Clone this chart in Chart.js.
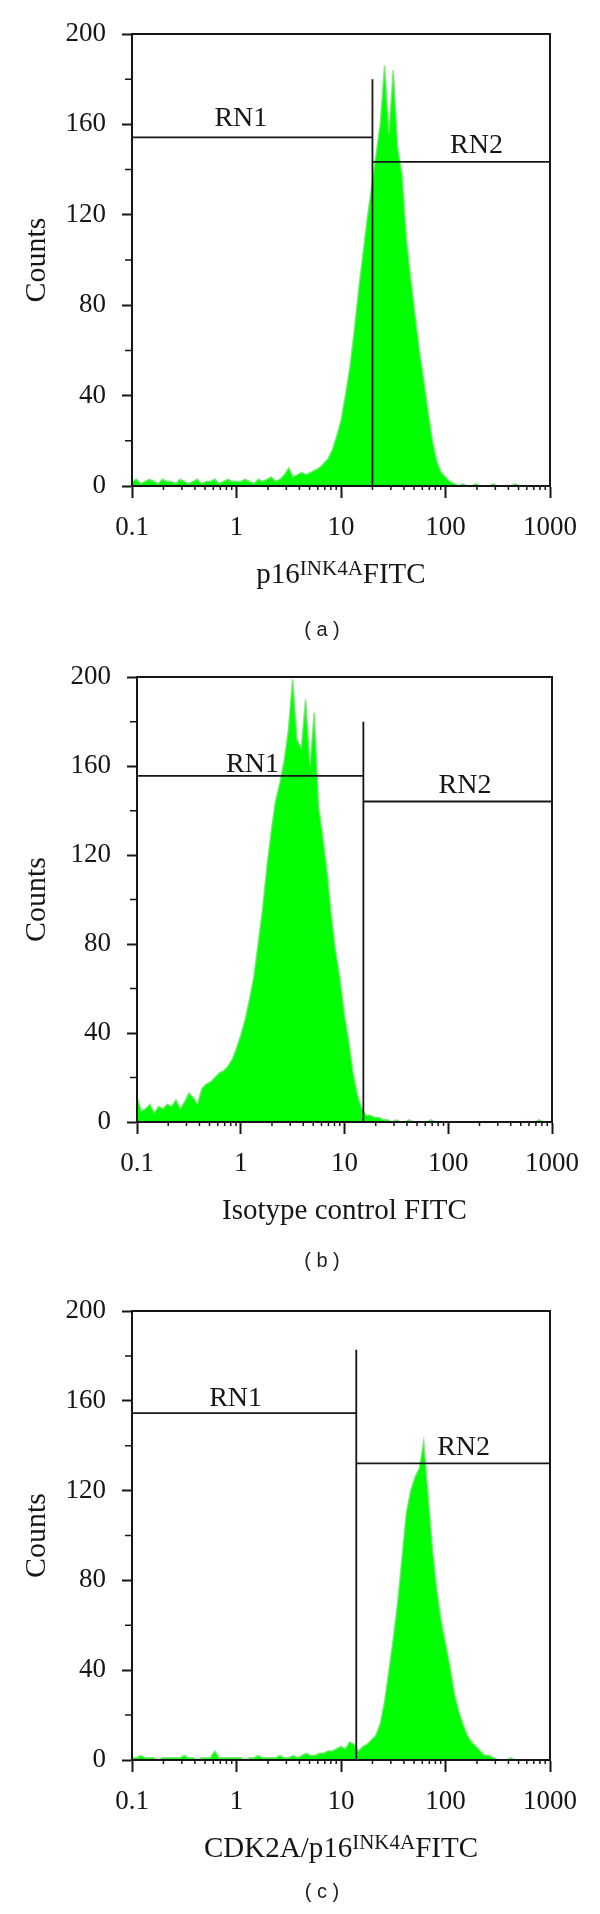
<!DOCTYPE html>
<html>
<head>
<meta charset="utf-8">
<title>Flow cytometry histograms</title>
<script src="https://cdn.jsdelivr.net/npm/chart.js@4.4.1/dist/chart.umd.min.js"></script>
<style>
  html, body { margin: 0; padding: 0; background: #fff; }
  #page { position: relative; width: 600px; height: 1914px; }
  #page canvas { position: absolute; left: 0; }
</style>
</head>
<body>
<div id="page">
  <canvas id="panelA" width="600" height="645" style="top:0px"></canvas>
  <canvas id="panelB" width="600" height="630" style="top:645px"></canvas>
  <canvas id="panelC" width="600" height="639" style="top:1275px"></canvas>
</div>
<script>
// channels are log spaced: 24 bins per decade from 0.1 to 1000
const binsPerDecade = 24;
const xMajorTicks = [0.1, 1, 10, 100, 1000];
const xTickLabels = ["0.1", "1", "10", "100", "1000"];
const yTickLabels = ["0", "40", "80", "120", "160", "200"];

const countsA = [
  2, 3, 1, 2, 3, 2, 1, 3, 2, 2, 1, 3, 2, 1, 2, 3, 1, 2, 2, 3, 1, 2, 3, 2, 2,
  2, 3, 2, 1, 3, 2, 3, 4, 2, 3, 5,
  8, 4, 5, 6, 5, 6, 7, 8, 10,
  12, 16, 22, 29, 40, 52, 68, 86, 102, 118, 132, 146, 160, 186, 156, 184, 150,
  138, 110, 92, 76, 60, 47, 33, 20, 11, 6, 4, 2,
  1, 0, 1, 0, 0, 1, 0, 0, 0, 1, 0, 0, 0, 0, 1, 0, 0, 0, 0, 0, 0, 0, 0,
];
const countsB = [
  11, 5, 6, 8, 4, 7, 6, 8, 7, 10, 6, 9, 13, 11, 8,
  15, 17, 18, 20, 22, 23, 25, 28, 33, 39, 46, 55, 65, 80, 95, 114, 130, 144,
  152, 162, 176,
  199, 172, 168, 190, 160, 184, 142, 128, 112, 92, 76, 64, 48, 36, 22, 12, 6,
  3, 3, 2, 2,
  1, 1, 0, 1, 0, 0, 1, 0, 0, 0, 0, 1, 0, 0, 0, 0, 0, 0, 0, 0,
  0, 0, 0, 0, 0, 0, 0, 0, 0, 0, 0, 0, 0, 0, 0, 0, 1, 0, 0, 0,
];
const countsC = [
  1, 1, 2, 1, 1, 1, 0, 1, 1, 1, 1, 1, 2, 1, 1, 0, 1, 1, 1, 4, 1, 1, 1, 1,
  1, 1, 0, 1, 1, 2, 1, 1, 1, 1, 2, 1, 1, 2, 1, 2, 3, 2, 2, 3, 3, 4, 4, 5,
  6, 5, 8, 7, 4, 6, 7, 9, 11, 16, 26, 40, 54, 70, 90, 110, 120, 126, 130, 142,
  118, 94, 76, 62, 52, 42, 30, 22, 16, 11, 8, 6, 4, 2, 2, 1,
  0, 0, 0, 1, 0, 0, 0, 0, 0, 0, 0, 0, 0,
];

// markers: [split, divider top, RN1 level, RN2 level]
const gateA = [20, 180, 154.3, 143.4];
const gateB = [15.2, 180, 155.6, 144.1];
const gateC = [14, 182.7, 154.5, 132.1];

const regionNames = ["RN1", "RN2"];
const titleA = [["p16", false], ["INK4A", true], ["FITC", false]];
const titleB = [["Isotype control FITC", false]];
const titleC = [["CDK2A/p16", false], ["INK4A", true], ["FITC", false]];
const captions = ["( a )", "( b )", "( c )"];

const ink = "#161616";
const serif = "'Liberation Serif', 'DejaVu Serif', serif";
const clear = "rgba(0,0,0,0)";

const panels = [
  {
    id: "panelA", counts: countsA, gate: gateA, title: titleA, caption: captions[0],
    height: 645, area: { left: 132, right: 550, top: 34, bottom: 486 },
    labelAt: [[1.1, 159.3], [198, 147.2]], captionY: 630,
  },
  {
    id: "panelB", counts: countsB, gate: gateB, title: titleB, caption: captions[1],
    height: 630, area: { left: 137, right: 552, top: 32, bottom: 477 },
    labelAt: [[1.3, 157.4], [145, 148]], captionY: 616,
  },
  {
    id: "panelC", counts: countsC, gate: gateC, title: titleC, caption: captions[2],
    height: 639, area: { left: 132, right: 550, top: 36, bottom: 485 },
    labelAt: [[0.98, 157.7], [149, 135.9]], captionY: 617,
  },
];

const isMajorX = (v) =>
  v != null && Math.abs(Math.log10(v) - Math.round(Math.log10(v))) < 1e-6;

const xTickValues = () => {
  const values = [];
  xMajorTicks.forEach((m, k) => {
    const steps = k === xMajorTicks.length - 1 ? 1 : 9;
    for (let s = 1; s <= steps; s++) values.push(m * s);
  });
  return values;
};

const drawRichTitle = (ctx, parts, cx, baseline) => {
  const fontFor = (sup) => (sup ? "21px " : "29px ") + serif;
  const widths = parts.map(([text, sup]) => {
    ctx.font = fontFor(sup);
    return ctx.measureText(text).width;
  });
  let x = cx - widths.reduce((a, b) => a + b, 0) / 2;
  ctx.textAlign = "left";
  ctx.textBaseline = "alphabetic";
  parts.forEach(([text, sup], k) => {
    ctx.font = fontFor(sup);
    ctx.fillText(text, x, sup ? baseline - 8 : baseline);
    x += widths[k];
  });
};

const makeOverlay = (p) => ({
  id: "overlay",
  afterDraw(chart) {
    const { ctx, chartArea } = chart;
    const xs = chart.scales.x;
    const ys = chart.scales.y;
    ctx.save();
    ctx.strokeStyle = ink;
    ctx.lineWidth = 1.5;
    ctx.beginPath();
    xs.ticks.forEach((t) => {
      if (isMajorX(t.value)) return;
      const px = xs.getPixelForValue(t.value);
      ctx.moveTo(px, chartArea.bottom);
      ctx.lineTo(px, chartArea.bottom + 4);
    });
    ys.ticks.forEach((t) => {
      if (t.value % 40 === 0) return;
      const py = ys.getPixelForValue(t.value);
      ctx.moveTo(chartArea.left, py);
      ctx.lineTo(chartArea.left - 7, py);
    });
    ctx.stroke();

    ctx.fillStyle = ink;
    ctx.font = "28px " + serif;
    ctx.textAlign = "center";
    ctx.textBaseline = "alphabetic";
    p.labelAt.forEach(([vx, vy], k) => {
      ctx.fillText(regionNames[k], xs.getPixelForValue(vx), ys.getPixelForValue(vy));
    });

    drawRichTitle(ctx, p.title, (chartArea.left + chartArea.right) / 2, chartArea.bottom + 97);

    ctx.font = "20px 'Liberation Sans', 'DejaVu Sans', sans-serif";
    ctx.textAlign = "center";
    ctx.textBaseline = "middle";
    ctx.fillStyle = "#222";
    ctx.fillText(p.caption, 322, p.captionY);
    ctx.restore();
  },
});

const frameAxis = (position, size) => ({
  type: "linear",
  position,
  afterFit: (s) => {
    if (position === "top") s.height = size;
    else s.width = size;
  },
  grid: { display: false },
  ticks: { display: false },
  border: { display: true, width: 2, color: ink, z: 1 },
});

const makeChart = (p) => {
  const points = p.counts.map((c, i) => ({
    x: 0.1 * Math.pow(10, i / binsPerDecade),
    y: c,
  }));
  const [split, dividerTop, rn1, rn2] = p.gate;
  const markerStyle = {
    type: "line",
    borderColor: ink,
    borderWidth: 1.8,
    pointRadius: 0,
    fill: false,
    tension: 0,
    order: 1,
  };

  return new Chart(document.getElementById(p.id), {
    type: "line",
    data: {
      datasets: [
        { ...markerStyle, data: [{ x: 0.1, y: rn1 }, { x: split, y: rn1 }] },
        { ...markerStyle, data: [{ x: split, y: 0 }, { x: split, y: dividerTop }] },
        { ...markerStyle, data: [{ x: split, y: rn2 }, { x: 1000, y: rn2 }] },
        {
          data: points,
          borderColor: "rgba(110, 232, 110, 0.85)",
          borderWidth: 1.5,
          backgroundColor: "#00ff00",
          fill: "origin",
          pointRadius: 0,
          tension: 0,
          order: 2,
        },
      ],
    },
    options: {
      responsive: false,
      animation: false,
      layout: { padding: 0 },
      plugins: {
        legend: { display: false },
        tooltip: { enabled: false },
      },
      scales: {
        x: {
          type: "logarithmic",
          min: 0.1,
          max: 1000,
          position: "bottom",
          afterBuildTicks: (s) => {
            s.ticks = xTickValues().map((v) => ({ value: v }));
          },
          afterFit: (s) => {
            s.height = p.height - p.area.bottom;
          },
          grid: {
            drawOnChartArea: false,
            tickLength: 12,
            tickWidth: 2,
            tickColor: (ctx) => (ctx.tick && isMajorX(ctx.tick.value) ? ink : clear),
            z: 1,
          },
          border: { display: true, width: 2, color: ink, z: 1 },
          ticks: {
            autoSkip: false,
            maxRotation: 0,
            minRotation: 0,
            padding: 14,
            color: ink,
            font: { family: serif, size: 27 },
            z: 1,
            callback: (v) => {
              const k = xMajorTicks.findIndex((m) => Math.abs(m - v) < m * 1e-6);
              return k >= 0 ? xTickLabels[k] : "";
            },
          },
        },
        y: {
          type: "linear",
          min: 0,
          max: 200,
          position: "left",
          afterFit: (s) => {
            s.width = p.area.left;
          },
          grid: {
            drawOnChartArea: false,
            tickLength: 10,
            tickWidth: 2,
            tickColor: (ctx) => (ctx.tick && ctx.tick.value % 40 === 0 ? ink : clear),
            z: 1,
          },
          border: { display: true, width: 2, color: ink, z: 1 },
          ticks: {
            stepSize: 20,
            autoSkip: false,
            padding: 16,
            color: ink,
            font: { family: serif, size: 27 },
            z: 1,
            callback: (v) => (v % 40 === 0 ? yTickLabels[v / 40] : ""),
          },
          title: {
            display: true,
            text: "Counts",
            color: ink,
            font: { family: serif, size: 30, lineHeight: 1 },
            padding: { top: 22, bottom: 0 },
          },
        },
        x2: frameAxis("top", p.area.top),
        y2: frameAxis("right", 600 - p.area.right),
      },
    },
    plugins: [makeOverlay(p)],
  });
};

panels.forEach(makeChart);
</script>
</body>
</html>
